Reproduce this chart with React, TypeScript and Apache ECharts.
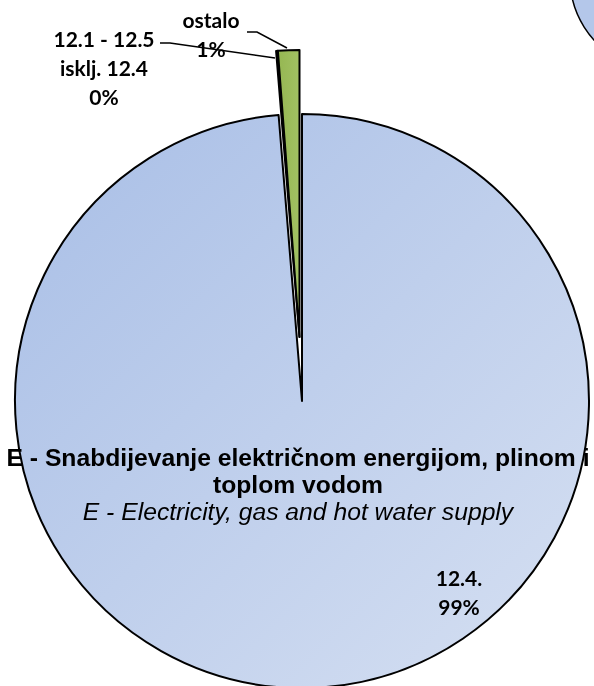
import React, { useEffect, useRef } from "react";
import * as echarts from "echarts";

const categories = ["12.4.", "12.1 - 12.5\nisklj. 12.4", "ostalo"];
const shares = [98.7, 0.1, 1.2];
const titleLines = [
  "E - Snabdijevanje električnom energijom, plinom i",
  "toplom vodom",
  "E - Electricity, gas and hot water supply",
];

export default function App() {
  const ref = useRef<HTMLDivElement>(null);
  useEffect(() => {
    document.body.style.margin = "0";
    const chart = echarts.init(ref.current!, null, { renderer: "svg" });
    const blueGrad = new echarts.graphic.LinearGradient(0, 0, 1, 1, [
      { offset: 0, color: "#A8BEE6" },
      { offset: 1, color: "#D6E0F2" },
    ]);
    const greenGrad = new echarts.graphic.LinearGradient(0, 0, 1, 0, [
      { offset: 0, color: "#95B752" },
      { offset: 1, color: "#A2C163" },
    ]);
    const colors = [blueGrad, "#C0504D", greenGrad];
    const labelFont = {
      fontFamily: "Lato",
      fontWeight: "bold" as const,
      fontSize: 21,
      lineHeight: 29,
      color: "#000",
    };
    const layouts: any[] = [
      { x: 459, y: 592, align: "center", verticalAlign: "middle" },
      {
        x: 104,
        y: 67,
        align: "center",
        verticalAlign: "middle",
        labelLinePoints: [
          [275, 58],
          [170, 43],
          [160, 43],
        ],
      },
      {
        x: 211,
        y: 34,
        align: "center",
        verticalAlign: "middle",
        labelLinePoints: [
          [287, 48],
          [257, 32],
          [247, 32],
        ],
      },
    ];
    const hidden = {
      itemStyle: { color: "rgba(0,0,0,0)", borderWidth: 0 },
      label: { show: false },
      labelLine: { show: false },
    };
    const common = {
      type: "pie",
      radius: 287,
      startAngle: 90,
      clockwise: true,
      avoidLabelOverlap: false,
      percentPrecision: 0,
      selectedMode: false,
      emphasis: { disabled: true },
      itemStyle: { borderColor: "#000", borderWidth: 2 },
      label: { show: true, formatter: "{b}\n{d}%", ...labelFont },
      labelLine: { show: true, lineStyle: { color: "#000", width: 1.5 } },
      labelLayout: (params: any) => layouts[params.dataIndex],
    };
    chart.setOption({
      animation: false,
      graphic: [
        {
          type: "circle",
          shape: { cx: 662, cy: -22, r: 92 },
          style: { fill: "#B4C7EA", stroke: "#000", lineWidth: 1.5 },
          z: 1,
        },
        {
          type: "text",
          x: 298,
          y: 484,
          z: 100,
          style: {
            text:
              "{b|" + titleLines[0] + "}\n{b|" + titleLines[1] + "}\n{i|" + titleLines[2] + "}",
            align: "center",
            verticalAlign: "middle",
            rich: {
              b: {
                fontFamily: "Liberation Sans",
                fontWeight: "bold",
                fontSize: 24.7,
                lineHeight: 27,
                fill: "#000",
                align: "center",
              },
              i: {
                fontFamily: "Liberation Sans",
                fontStyle: "italic",
                fontSize: 24.7,
                lineHeight: 27,
                fill: "#000",
                align: "center",
              },
            },
          },
        },
      ],
      series: [
        {
          ...common,
          center: [302, 401],
          data: categories.map((name, i) =>
            i === 0
              ? {
                  name,
                  value: shares[i],
                  itemStyle: { color: colors[i] },
                  label: { position: "inside" },
                  labelLine: { show: false },
                }
              : { name, value: shares[i], ...hidden }
          ),
        },
        {
          ...common,
          center: [299.5, 337],
          data: categories.map((name, i) =>
            i === 0
              ? { name, value: shares[i], ...hidden }
              : {
                  name,
                  value: shares[i],
                  itemStyle: { color: colors[i] },
                  label: { position: "outside" },
                }
          ),
        },
      ],
    });
    return () => chart.dispose();
  }, []);
  return (
    <div
      ref={ref}
      style={{ position: "fixed", left: 0, top: 0, width: 594, height: 686 }}
    />
  );
}
